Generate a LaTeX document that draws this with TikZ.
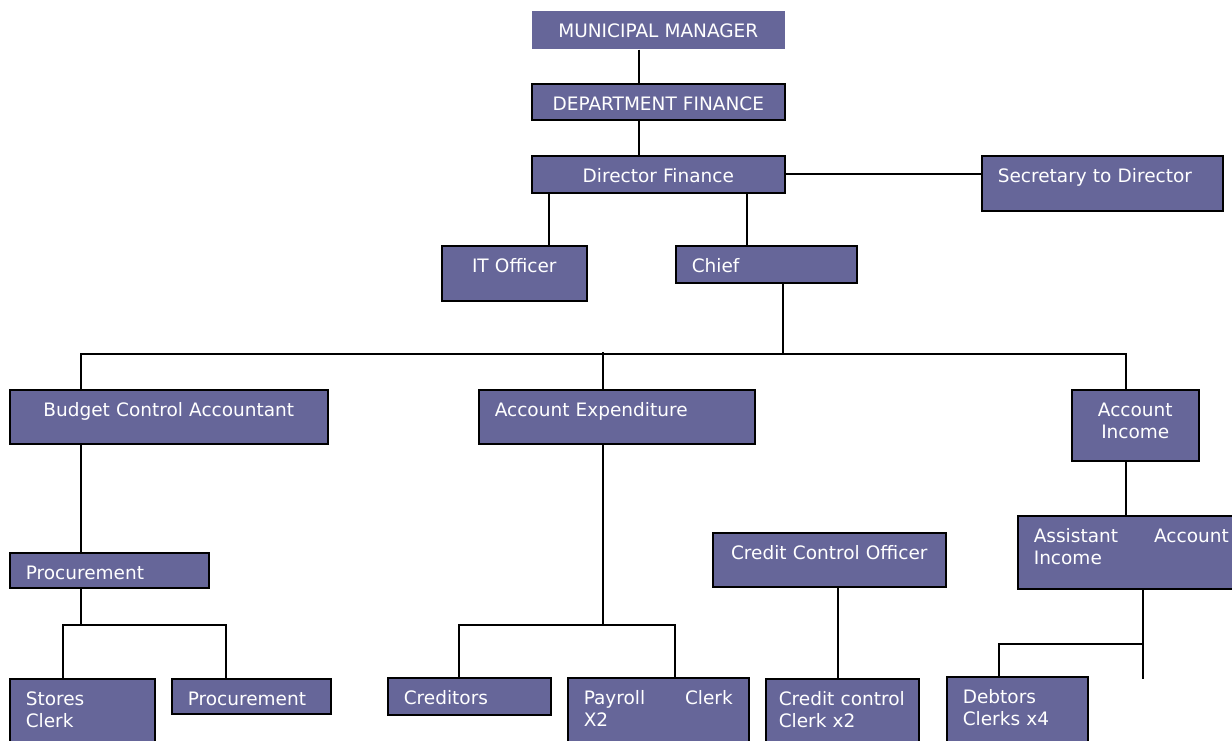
\documentclass[tikz,border=0pt]{standalone}
\usepackage{fontspec}
\usepackage{xcolor}
\usepackage{tikz}
\usetikzlibrary{positioning,calc}
\newfontfamily\orgfont{DejaVu Sans}
\definecolor{postfill}{RGB}{102,102,153}

\begin{document}
\begin{tikzpicture}[x=1pt, y=-1pt,
  post/.style={rectangle, draw=black, line width=1.6pt, fill=postfill, text=white, anchor=north west, inner xsep=16pt, inner ysep=4pt, text height=22.5pt, font=\orgfont\fontsize{18.5}{22.5}\selectfont},
  link/.style={draw=black, line width=1.8pt}]
\clip (0,0) rectangle (1232,740);
\fill[white] (0,0) rectangle (1232,740);
% Posts

\node [post, draw=none, text width=221pt, text depth=7.5pt, align=center] (mm) at (531,10) {MUNICIPAL MANAGER};
\node [post, text width=221pt, text depth=5.5pt, align=center] (dept) at (531,83) {DEPARTMENT FINANCE};
\node [post, text width=221pt, text depth=6.5pt, align=center] (dir) at (531,155) {Director Finance};
\node [post, text width=209pt, text depth=24.5pt, align=left] (sec) at (981,155) {Secretary to Director};

\node [post, text width=113pt, text depth=24.5pt, align=center] (it) at (441,245) {IT Officer};
\node [post, text width=149pt, text depth=6.5pt, align=left] (chief) at (675,245) {Chief};

\node [post, text width=286pt, text depth=23.5pt, align=center] (budget) at (9,389) {Budget Control Accountant};
\node [post, text width=244pt, text depth=23.5pt, align=left] (expend) at (478,389) {Account Expenditure};
\node [post, text width=95pt, text depth=40.5pt, align=center] (income) at (1071,389) {Account\\Income};

\node [post, text width=167pt, text depth=4.5pt, align=left] (proc) at (9,552) {Procurement};
\node [post, text width=201pt, text depth=23.5pt, align=center] (ccofficer) at (712,532) {Credit Control Officer};
\node [post, text width=195pt, text depth=42.5pt, align=left] (asst) at (1017,515) {Assistant\hfill Account\\Income};

\node [post, text width=113pt, text depth=41.5pt, align=left] (stores) at (9,678) {Stores\\Clerk};
\node [post, text width=127pt, text depth=4.5pt, align=left] (proc2) at (171,678) {Procurement};
\node [post, text width=131pt, text depth=6.5pt, align=left] (creditors) at (387,677) {Creditors};
\node [post, text width=149pt, text depth=42.5pt, align=left] (payroll) at (567,677) {Payroll\hfill Clerk\\X2};
\node [post, inner xsep=13pt, text width=127pt, text depth=41.5pt, align=left] (ccclerk) at (765,678) {Credit control\\Clerk x2};
\node [post, text width=109pt, text depth=43.5pt, align=left] (debtors) at (946,676) {Debtors\\Clerks x4};

% Lines

\draw[link] ([xshift=108pt]mm.south west) -- ([xshift=108pt]dept.north west);
\draw[link] ([xshift=108pt]dept.south west) -- ([xshift=108pt]dir.north west);
\draw[link] ([xshift=18pt]dir.south west) -- ([xshift=108pt]it.north west);
\draw[link] ([xshift=216pt]dir.south west) -- ([xshift=72pt]chief.north west);
\draw[link] (dir.east) -- (dir.east -| sec.west);

\draw[link] ([xshift=108pt]chief.south west) -- ++(0,70) coordinate (chiefbus);
\draw[link] ([xshift=72pt]budget.north west) |- (chiefbus) -| ([xshift=55pt]income.north west);
\draw[link] ([xshift=125pt]expend.north west) -- ++(0,-37);

\draw[link] ([xshift=72pt]budget.south west) -- ([xshift=72pt]proc.north west);
\draw[link] ([xshift=72pt]proc.south west) -- ++(0,36) coordinate (procbus);
\draw[link] ([xshift=54pt]stores.north west) |- (procbus) -| ([xshift=55pt]proc2.north west);

\draw[link] ([xshift=125pt]expend.south west) -- ++(0,180) coordinate (expbus);
\draw[link] ([xshift=72pt]creditors.north west) |- (expbus) -| ([xshift=108pt]payroll.north west);

\draw[link] ([xshift=126pt]ccofficer.south west) -- ([xshift=73pt]ccclerk.north west);

\draw[link] ([xshift=55pt]income.south west) -- ([xshift=109pt]asst.north west);
\draw[link] ([xshift=126pt]asst.south west) -- ++(0,54) coordinate (asstbus) -- ++(0,35) coordinate (asstend);
\draw[link] ([xshift=53pt]debtors.north west) |- (asstbus);
\end{tikzpicture}
\end{document}
